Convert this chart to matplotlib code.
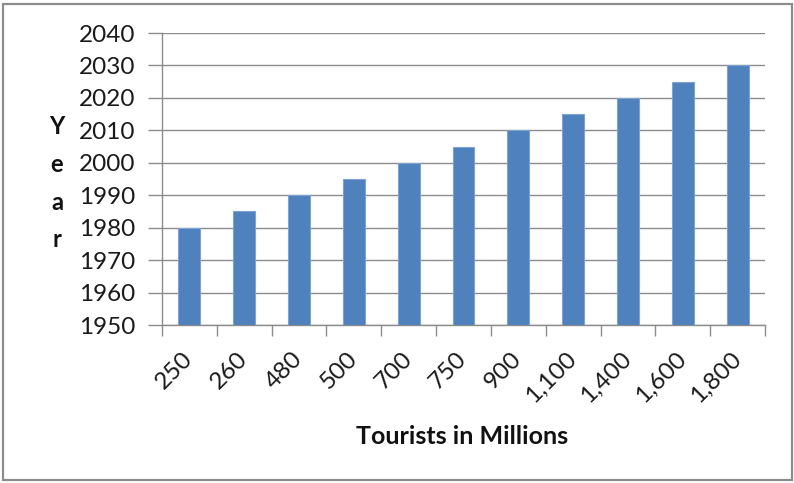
import matplotlib
matplotlib.use("Agg")
import matplotlib.pyplot as plt
from matplotlib.patches import Rectangle
import numpy as np

plt.rcParams['font.family'] = ['Lato', 'DejaVu Sans']

tourists = ["250", "260", "480", "500", "700", "750", "900",
            "1,100", "1,400", "1,600", "1,800"]
years = [1980, 1985, 1990, 1995, 2000, 2005, 2010, 2015, 2020, 2025, 2030]
y_ticks = [1950, 1960, 1970, 1980, 1990, 2000, 2010, 2020, 2030, 2040]

W, H = 794, 483
fig = plt.figure(figsize=(W / 100, H / 100), dpi=100)
fig.patch.set_facecolor('white')

# outer chart frame
fig.patches.append(Rectangle((3 / W, 3 / H), 789 / W, 476 / H,
                             transform=fig.transFigure, fill=False,
                             edgecolor='#8c8c8c', linewidth=1.6))

ax = fig.add_axes([162 / W, 1 - 325 / H, (765 - 162) / W, (325 - 33) / H])
x = np.arange(len(tourists))
ax.bar(x, years, width=0.4, color='#4f81bd', edgecolor='#7ea3d2',
       linewidth=0.8, zorder=3)

ax.set_xlim(-0.5, len(tourists) - 0.5)
ax.set_ylim(y_ticks[0], y_ticks[-1])
ax.set_yticks(y_ticks)
ax.set_yticklabels([str(v) for v in y_ticks], fontsize=17.5, color='#1a1a1a')
ax.yaxis.grid(True, color='#8c8c8c', linewidth=1.0, zorder=0)

ax.set_xticks(x)
ax.set_xticklabels(tourists, rotation=45, ha='right', va='center',
                   rotation_mode='anchor', fontsize=17.5, color='#1a1a1a')
ax.set_xticks(np.arange(-0.5, len(tourists)), minor=True)
ax.tick_params(axis='x', which='major', length=0, pad=22)
ax.tick_params(axis='x', which='minor', length=8, width=1.0,
               color='#8c8c8c', direction='out')
ax.tick_params(axis='y', length=10, width=1.0, color='#8c8c8c',
               direction='out', pad=9)

for side in ('top', 'right'):
    ax.spines[side].set_visible(False)
for side in ('left', 'bottom'):
    ax.spines[side].set_color('#8c8c8c')
    ax.spines[side].set_linewidth(1.0)

fig.text(462 / W, 1 - 436 / H, "Tourists in Millions", ha='center',
         va='center', fontsize=18, fontweight='bold', color='#111111')

for i, ch in enumerate("Year"):
    fig.text(57 / W, 1 - (127 + 37.5 * i) / H, ch, ha='center', va='center',
             fontsize=17, fontweight='bold', color='#111111')

fig.savefig("out.png", dpi=100)
